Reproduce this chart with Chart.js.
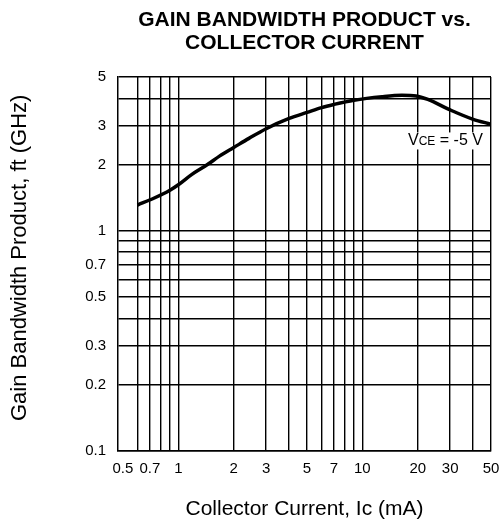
<!DOCTYPE html>
<html>
<head>
<meta charset="utf-8">
<title>Gain Bandwidth Product vs. Collector Current</title>
<script src="https://cdn.jsdelivr.net/npm/chart.js@4/dist/chart.umd.min.js"></script>
<style>
    body { margin: 0; background: #fff; }
    #gbw-chart { display: block; background: #fff; }
</style>
</head>
<body>
<canvas id="gbw-chart" width="499" height="520"></canvas>
<script>
// collector current (mA) and gain bandwidth product ft (GHz), Vce = -5 V
const currentMA = [0.6, 0.74, 0.9, 1, 1.18, 1.44, 1.68, 2, 2.42, 3, 4, 5, 6, 7, 9, 12.8, 16.4, 19.6, 22.7, 30, 40, 50];
const ftGHz = [1.31, 1.41, 1.53, 1.62, 1.80, 2.0, 2.19, 2.39, 2.63, 2.91, 3.24, 3.45, 3.63, 3.75, 3.92, 4.07, 4.13, 4.10, 3.95, 3.54, 3.21, 3.05];

// grid lines and labelled ticks
const xGrid = [0.5, 0.6, 0.7, 0.8, 0.9, 1, 2, 3, 4, 5, 6, 7, 8, 9, 10, 20, 30, 40, 50];
const xLabels = [0.5, 0.7, 1, 2, 3, 5, 7, 10, 20, 30, 50];
const yGrid = [0.1, 0.2, 0.3, 0.4, 0.5, 0.6, 0.7, 0.8, 0.9, 1, 2, 3, 4, 5];
const yLabels = [0.1, 0.2, 0.3, 0.5, 0.7, 1, 2, 3, 5];

const vceLabelAt = { x: 17.7, y: 2.56 };

const FONT = "'Liberation Sans', Arial, Helvetica, sans-serif";

// "VCE = -5 V" note with a white box behind it
const vceLabel = {
    id: 'vceLabel',
    afterDatasetsDraw(chart) {
        const ctx = chart.ctx;
        const x = chart.scales.x.getPixelForValue(vceLabelAt.x);
        const y = chart.scales.y.getPixelForValue(vceLabelAt.y);
        ctx.save();
        ctx.fillStyle = '#fff';
        ctx.fillRect(x - 5, y - 8.5, 82, 17);
        ctx.fillStyle = '#000';
        ctx.textBaseline = 'middle';
        ctx.textAlign = 'left';
        ctx.font = '16px ' + FONT;
        ctx.fillText('V', x, y);
        let w = ctx.measureText('V').width;
        ctx.font = '12px ' + FONT;
        ctx.fillText('CE', x + w, y + 1);
        w += ctx.measureText('CE').width;
        ctx.font = '16px ' + FONT;
        ctx.fillText(' = -5 V', x + w, y);
        ctx.restore();
    }
};

const ctx = document.getElementById('gbw-chart').getContext('2d');

window.gbwChart = new Chart(ctx, {
    type: 'line',
    data: {
        datasets: [{
            label: 'ft',
            data: currentMA.map((c, i) => ({ x: c, y: ftGHz[i] })),
            borderColor: '#000',
            borderWidth: 3.5,
            pointRadius: 0,
            fill: false,
            cubicInterpolationMode: 'monotone'
        }]
    },
    options: {
        responsive: false,
        animation: false,
        layout: { padding: { left: 0, right: 8, top: 0, bottom: 0 } },
        plugins: {
            legend: { display: false },
            tooltip: { enabled: false },
            title: {
                display: true,
                fullSize: false,
                text: ['GAIN BANDWIDTH PRODUCT vs.', 'COLLECTOR CURRENT'],
                color: '#000',
                font: { family: FONT, size: 21, weight: 'bold', lineHeight: 1.07 },
                padding: { top: 9, bottom: 23 }
            }
        },
        scales: {
            x: {
                type: 'logarithmic',
                bounds: 'data',
                min: 0.47,
                max: 50,
                afterBuildTicks: (scale) => { scale.ticks = xGrid.map(v => ({ value: v })); },
                afterFit: (scale) => {
                    scale.height = 69;
                    scale.paddingLeft = 0;
                    scale.paddingRight = 0;
                },
                ticks: {
                    autoSkip: false,
                    maxRotation: 0,
                    padding: 9,
                    color: '#000',
                    font: { family: FONT, size: 15 },
                    callback: (v) => xLabels.includes(v) ? String(v) : ''
                },
                grid: {
                    color: (c) => (c.tick && c.tick.value === 0.5) ? 'rgba(0,0,0,0)' : '#000',
                    lineWidth: 1.4,
                    drawTicks: false
                },
                border: { color: '#000', width: 1.5 },
                title: {
                    display: true,
                    text: 'Collector Current, Ic (mA)',
                    color: '#000',
                    font: { family: FONT, size: 21, lineHeight: 0.9 },
                    padding: { top: 0, bottom: 1 }
                }
            },
            y: {
                type: 'logarithmic',
                bounds: 'data',
                min: 0.1,
                max: 5,
                afterBuildTicks: (scale) => { scale.ticks = yGrid.map(v => ({ value: v })); },
                afterFit: (scale) => { scale.width = 118; },
                ticks: {
                    autoSkip: false,
                    padding: 12,
                    color: '#000',
                    font: { family: FONT, size: 15 },
                    callback: (v) => yLabels.includes(v) ? String(v) : ''
                },
                grid: { color: '#000', lineWidth: 1.4, drawTicks: false },
                border: { color: '#000', width: 1.5 },
                title: {
                    display: true,
                    // leading spaces nudge the centred title up a little
                    text: '  Gain Bandwidth Product, ft (GHz)',
                    color: '#000',
                    font: { family: FONT, size: 22, lineHeight: 1 },
                    padding: { top: 9, bottom: 0 }
                }
            }
        }
    },
    plugins: [vceLabel]
});
</script>
</body>
</html>
